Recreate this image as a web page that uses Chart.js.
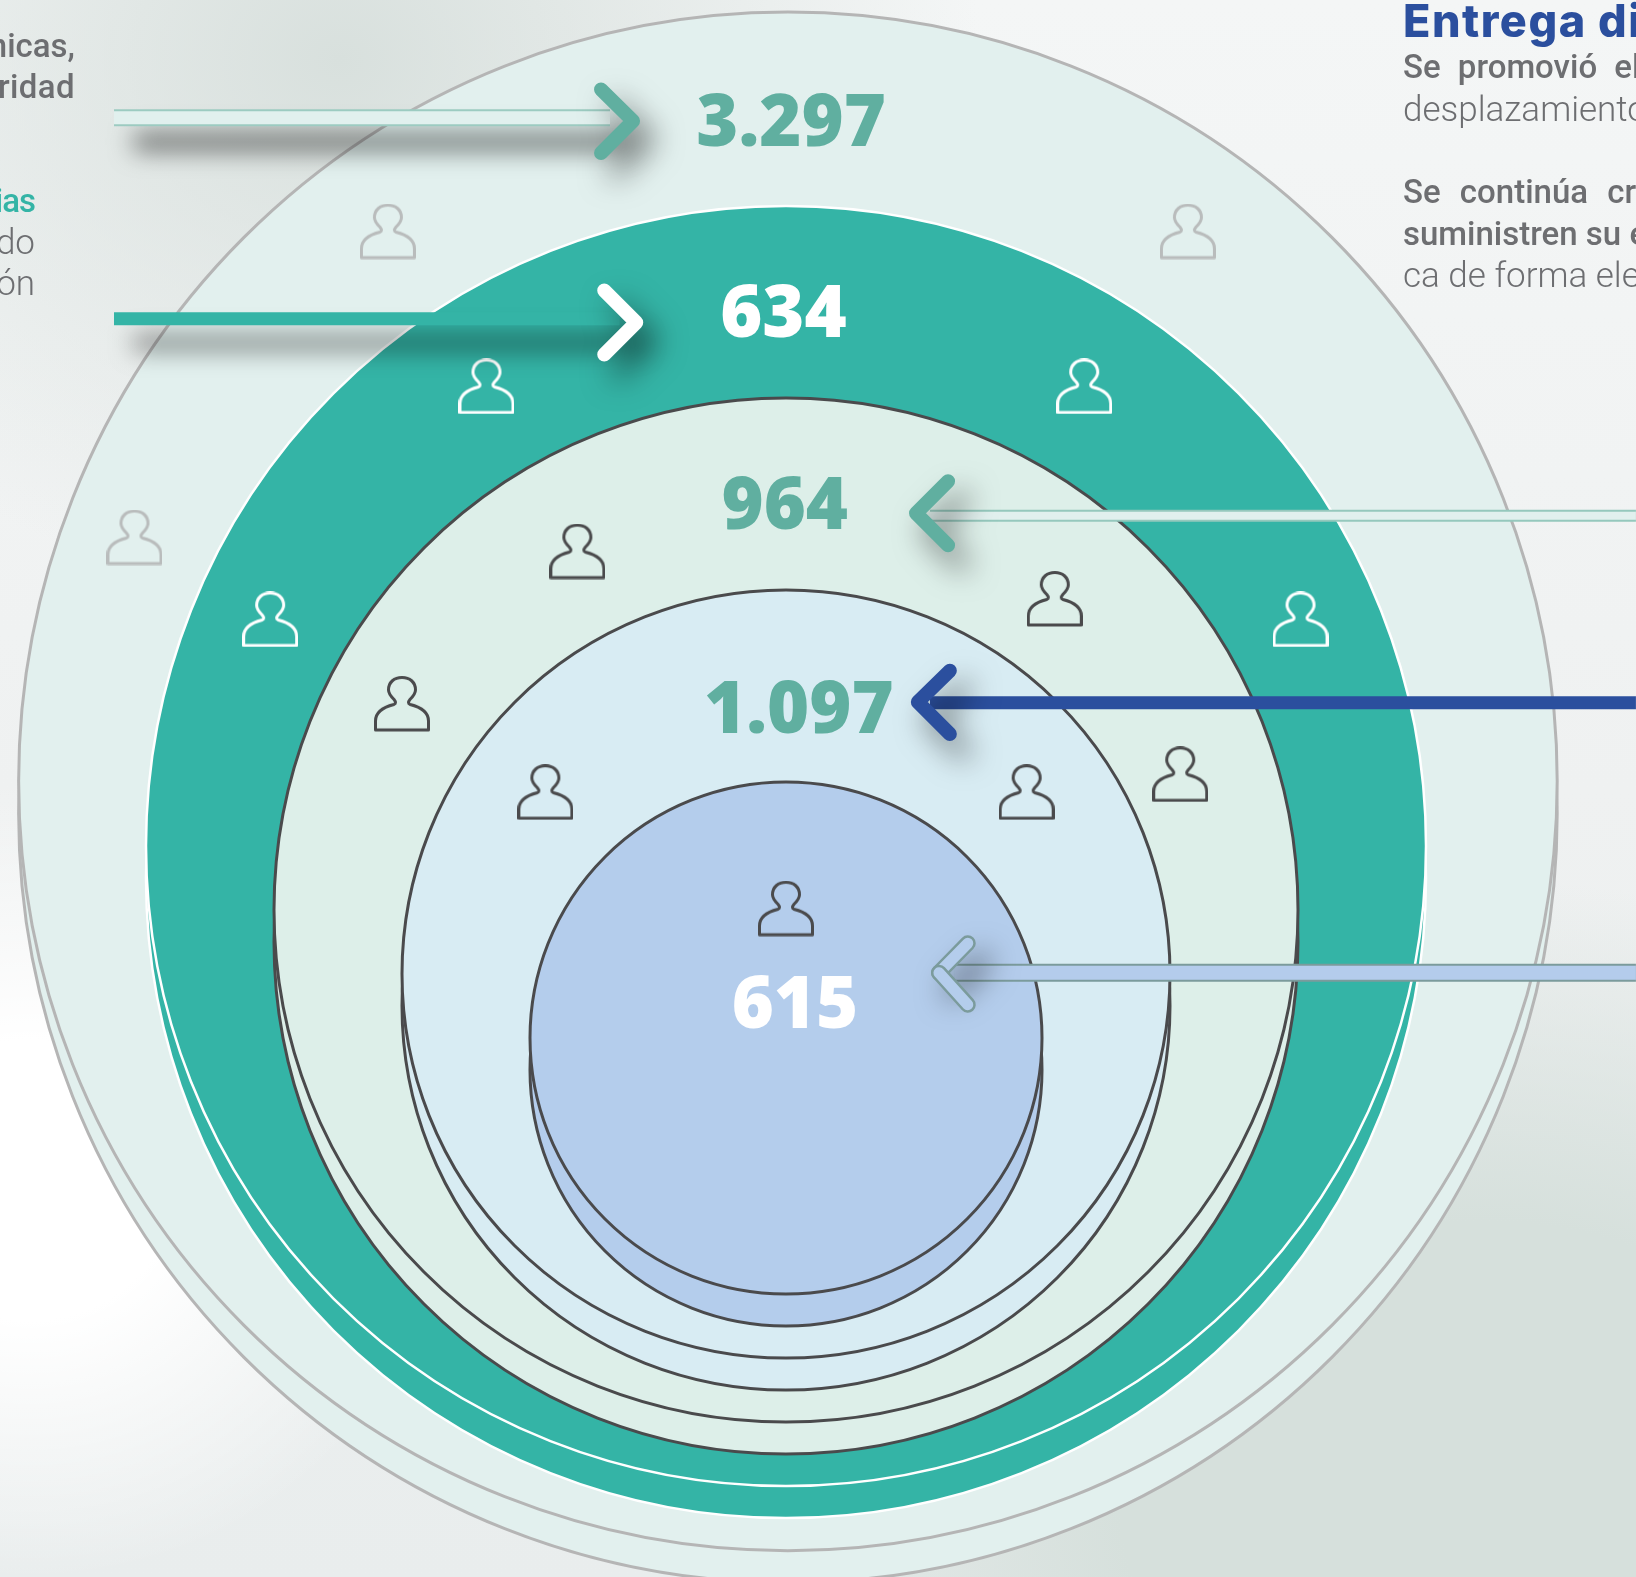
<!DOCTYPE html>
<html lang="es">
<head>
<meta charset="utf-8">
<title>Entrega digital</title>
<script src="https://cdn.jsdelivr.net/npm/chart.js@4"></script>
<style>
html, body { margin: 0; padding: 0; }
body {
    width: 1636px;
    height: 1577px;
    position: relative;
    overflow: hidden;
    background:
        radial-gradient(ellipse 640px 540px at 340px 60px, #d8e0dd 0%, rgba(216,224,221,0) 100%),
        radial-gradient(ellipse 800px 620px at 1480px 1500px, #d6e0dc 45%, rgba(214,224,220,0) 100%),
        radial-gradient(ellipse 420px 400px at 30px 1180px, #ffffff 35%, rgba(255,255,255,0) 100%),
        linear-gradient(180deg, #f4f6f6 0%, #eff1f1 50%, #e9eded 100%);
}
canvas { position: absolute; left: 0; top: 0; }
.t {
    position: absolute;
    font-family: Roboto, sans-serif;
    font-size: 33px;
    line-height: 39px;
    color: #6d6e71;
    white-space: nowrap;
}
.left { right: 1561px; text-align: right; }
.left2 { right: 1601px; text-align: right; }
.right { left: 1403px; }
.b { font-weight: 500; }
.l { font-weight: 300; font-size: 35px; }
#title {
    font-family: Inter, sans-serif;
    font-size: 45px;
    line-height: 54px;
    font-weight: 800;
    letter-spacing: 1.5px;
    color: #2b4f9e;
}
</style>
</head>
<body>
<canvas id="rings" width="1636" height="1577"></canvas>

<div class="t left b" style="top:26px">nicas,</div>
<div class="t left b" style="top:67px;letter-spacing:0.4px">ridad</div>
<div class="t left2 b" style="top:181px;color:#34b4a6;letter-spacing:-1px">ias</div>
<div class="t left2 l" style="top:223px">do</div>
<div class="t left2 l" style="top:264px">ón</div>

<div class="t right" id="title" style="top:-6px">Entrega di</div>
<div class="t right b" style="top:47px;word-spacing:9px">Se promovió el</div>
<div class="t right l" style="top:90px">desplazamiento</div>
<div class="t right b" style="top:172px;word-spacing:11px">Se continúa cre</div>
<div class="t right b" style="top:214px">suministren su e</div>
<div class="t right l" style="top:256px">ca de forma elec</div>

<script>
// outer ring first, inner ring last
const ringNames = ['Anillo 1', 'Anillo 2', 'Anillo 3', 'Anillo 4', 'Anillo 5'];
const ringValues = [3297, 634, 964, 1097, 615];
const ringLevels = [6.01, 5, 4, 3, 2];
const ringCenterX = [0.015, 0, 0, 0, 0];

// where things sit, in axis units
const labelX = [0.04, -0.02, -0.01, 0.10, 0.07];
const labelY = [7.97, 6.48, 4.98, 3.38, 1.08];

const grayPeopleX = [-3.11, 3.14, -5.09];
const grayPeopleY = [7.30, 7.30, 4.91];
const whitePeopleX = [-2.34, 2.33, -4.03, 4.02];
const whitePeopleY = [6.09, 6.09, 4.27, 4.27];
const darkPeopleX = [-1.63, 2.10, -3.00, 3.08, -1.88, 1.88, 0];
const darkPeopleY = [4.80, 4.43, 3.61, 3.06, 2.92, 2.92, 2.01];

const shaftFromX = [-5.25, -5.25, 6.64, 6.64, 6.64];
const shaftToX = [-1.375, -1.30, 1.125, 1.125, 1.32];
const shaftY = [8.19, 6.62, 5.08, 3.62, 1.51];
const headTipX = [-1.195, -1.17, 1.016, 1.03, 1.195];
const headEndX = [-1.445, -1.42, 1.266, 1.28, 1.42];
const headTopY = [8.41, 6.84, 5.35, 3.87, 1.74];
const headMidY = [8.164, 6.59, 5.10, 3.625, 1.51];
const headBottomY = [7.914, 6.34, 4.85, 3.375, 1.26];

const ringFill = ['#e2f0ee', '#34b4a6', '#ddefe9', '#d8ecf3', '#b4cdec'];
const ringLine = ['#b5b5b5', '#ffffff', '#4a4a4c', '#4a4a4c', '#4a4a4c'];
const labelColor = ['#60afa0', '#ffffff', '#60afa0', '#60afa0', '#ffffff'];

function personIcon(color) {
    const c = document.createElement('canvas');
    c.width = 56;
    c.height = 56;
    const g = c.getContext('2d');
    g.strokeStyle = color;
    g.lineWidth = 3;
    g.lineJoin = 'round';
    g.beginPath();
    g.moveTo(1.5, 54);
    g.lineTo(54.5, 54);
    g.lineTo(54.5, 45);
    g.bezierCurveTo(54.5, 36, 46, 31, 36, 28.5);
    g.bezierCurveTo(34, 27.5, 34, 26, 36, 23.5);
    g.bezierCurveTo(39.5, 20, 41.5, 17, 41.5, 14);
    g.bezierCurveTo(41.5, 6, 35.5, 1.5, 28, 1.5);
    g.bezierCurveTo(20.5, 1.5, 14.5, 6, 14.5, 14);
    g.bezierCurveTo(14.5, 17, 16.5, 20, 20, 23.5);
    g.bezierCurveTo(22, 26, 22, 27.5, 20, 28.5);
    g.bezierCurveTo(10, 31, 1.5, 36, 1.5, 45);
    g.closePath();
    g.stroke();
    return c;
}

function zip(xs, ys) {
    return xs.map(function(x, i) { return { x: x, y: ys[i] }; });
}

const datasets = [];

ringLevels.forEach(function(level, i) {
    datasets.push({
        type: 'scatter',
        label: ringNames[i],
        // the lower copy gives the disc its thickness
        data: [{ x: ringCenterX[i], y: level / 2 - 0.25 }, { x: ringCenterX[i], y: level / 2 }],
        pointRadius: function(ctx) {
            const s = ctx.chart.scales.x;
            return s.getPixelForValue(level) - s.getPixelForValue(0);
        },
        pointBackgroundColor: ringFill[i],
        pointBorderColor: ringLine[i],
        pointBorderWidth: i === 1 ? 2.5 : 3
    });
});

function addPeople(xs, ys, color) {
    datasets.push({
        type: 'scatter',
        data: zip(xs, ys),
        pointStyle: personIcon(color),
        pointRadius: 20
    });
}
addPeople(grayPeopleX, grayPeopleY, '#b9bcbc');
addPeople(whitePeopleX, whitePeopleY, '#ffffff');
addPeople(darkPeopleX, darkPeopleY, '#4a4a4c');

function addLine(points, color, width, cap, shadow) {
    datasets.push({
        type: 'line',
        data: points,
        borderColor: color,
        borderWidth: width,
        borderCapStyle: cap,
        borderJoinStyle: 'round',
        pointRadius: 0,
        tension: 0,
        shadowed: shadow
    });
}

function shaft(i) {
    return [{ x: shaftFromX[i], y: shaftY[i] }, { x: shaftToX[i], y: shaftY[i] }];
}
function head(i) {
    return [
        { x: headEndX[i], y: headTopY[i] },
        { x: headTipX[i], y: headMidY[i] },
        { x: headEndX[i], y: headBottomY[i] }
    ];
}

// 3.297
addLine(shaft(0), '#9ccbc1', 17, 'butt', 'long');
addLine(shaft(0), '#e1f0ee', 13, 'butt');
addLine(head(0), '#60afa0', 14, 'round', 'head');
// 634
addLine(shaft(1), '#34b4a6', 13, 'butt', 'long');
addLine(head(1), '#ffffff', 14, 'round', 'head');
// 964
addLine(shaft(2), '#95c8bd', 12, 'butt');
addLine(shaft(2), '#e1f0ee', 8, 'butt');
addLine(head(2), '#60afa0', 14, 'round', 'head');
// 1.097
addLine(shaft(3), '#2b4f9e', 13, 'butt');
addLine(head(3), '#2b4f9e', 14, 'round', 'head');
// 615, two separate bars with an outline
addLine(shaft(4), '#7b9b9c', 18, 'butt');
addLine(shaft(4), '#b4ccec', 14, 'butt');
addLine(head(4).slice(0, 2), '#7b9b9c', 16, 'round', 'head');
addLine(head(4).slice(0, 2), '#b4cdec', 11, 'round');
addLine(head(4).slice(1), '#7b9b9c', 16, 'round');
addLine(head(4).slice(1), '#b4cdec', 11, 'round');

// first in the list is painted first
datasets.forEach(function(ds, i) {
    ds.order = datasets.length - i;
});

const shadowPlugin = {
    id: 'shadowPlugin',
    beforeDatasetDraw: function(chart, args) {
        const kind = chart.data.datasets[args.index].shadowed;
        if (!kind) return;
        chart.ctx.shadowColor = 'rgba(0,0,0,0.55)';
        chart.ctx.shadowBlur = kind === 'long' ? 24 : 30;
        chart.ctx.shadowOffsetX = kind === 'long' ? 20 : 14;
        chart.ctx.shadowOffsetY = kind === 'long' ? 24 : 18;
    },
    afterDatasetDraw: function(chart) {
        chart.ctx.shadowColor = 'transparent';
        chart.ctx.shadowBlur = 0;
        chart.ctx.shadowOffsetX = 0;
        chart.ctx.shadowOffsetY = 0;
    }
};

const valueLabels = {
    id: 'valueLabels',
    afterDatasetsDraw: function(chart) {
        const ctx = chart.ctx;
        ctx.save();
        ctx.font = '800 72px "Open Sans", sans-serif';
        ctx.textAlign = 'center';
        ctx.textBaseline = 'alphabetic';
        ringValues.forEach(function(v, i) {
            const text = String(v).replace(/\B(?=(\d{3})+$)/g, '.');
            ctx.fillStyle = labelColor[i];
            ctx.fillText(text, chart.scales.x.getPixelForValue(labelX[i]), chart.scales.y.getPixelForValue(labelY[i]));
        });
        ctx.restore();
    }
};

new Chart(document.getElementById('rings'), {
    type: 'scatter',
    data: { datasets: datasets },
    plugins: [shadowPlugin, valueLabels],
    options: {
        responsive: false,
        animation: false,
        layout: { padding: 0, autoPadding: false },
        events: [],
        plugins: {
            legend: { display: false },
            tooltip: { enabled: false }
        },
        scales: {
            x: { type: 'linear', display: false, min: -6.140625, max: 6.640625 },
            y: { type: 'linear', display: false, min: -3.2109375, max: 9.109375 }
        }
    }
});
</script>
</body>
</html>
